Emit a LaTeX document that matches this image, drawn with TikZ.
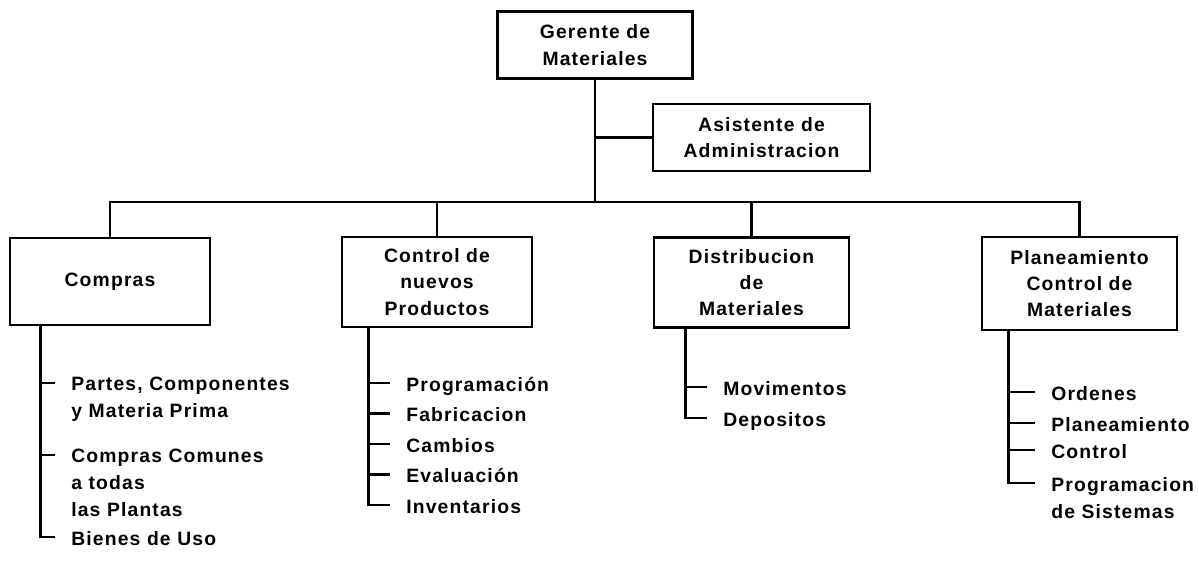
\documentclass[tikz,border=0pt]{standalone}
\usepackage{fontspec}
\setmainfont{Liberation Sans}[LetterSpace=6]
\usetikzlibrary{positioning,calc}

\begin{document}
\begin{tikzpicture}[
  x=0.2mm, y=-0.2mm,
  line width=1.5pt,
  box/.style={
    rectangle, draw, line width=1.5pt,
    minimum width=3.9cm, minimum height=1.8cm,
    align=center, font=\bfseries\fontsize{11}{15}\selectfont},
  topbox/.style={box, minimum height=1.34cm},
  item/.style={
    anchor=north west, inner sep=0pt, align=left,
    font=\bfseries\fontsize{11}{15.3}\selectfont},
  tick/.style={shift={(-0.3cm,-4pt)}},
]
  \useasboundingbox (0,0) rectangle (1199,565);

  \node[topbox] (ger) at (595,45) {Gerente de\\Materiales};
  \node[topbox, minimum width=4.34cm] (asis) at (761.5,137.5)
      {Asistente de\\Administracion};
  \node[box, minimum width=4cm, minimum height=1.74cm] (compras) at (110,281.5)
      {Compras};
  \node[box, minimum width=3.8cm] (ctrl) at (437,282)
      {Control de\\nuevos\\Productos};
  \node[box] (dist) at (751.5,282.5) {Distribucion\\de\\Materiales};
  \node[box, minimum height=1.86cm] (plan) at (1079.5,283.5)
      {Planeamiento\\Control de\\Materiales};

  \coordinate (bus) at (595,202);
  \draw (ger.south) -- (bus);
  \draw (asis.west) -- (asis.west -| ger.south);
  \draw (compras.north) |- (bus) -| (plan.north);
  \draw (ctrl.north) -- (ctrl.north |- bus);
  \draw (dist.north) -- (dist.north |- bus);

  \node[item] (partes)  at (70,376) {Partes, Componentes\\y Materia Prima};
  \node[item] (comunes) at (70,448) {Compras Comunes\\a todas\\las Plantas};
  \node[item] (bienes)  at (70,530) {Bienes de Uso};

  \node[item] (prog) at (405,376)   {Programación};
  \node[item] (fab)  at (405,406.5) {Fabricacion};
  \node[item] (camb) at (405,437)   {Cambios};
  \node[item] (eval) at (405,467.5) {Evaluación};
  \node[item] (inv)  at (405,498)   {Inventarios};

  \node[item] (mov) at (722,380) {Movimentos};
  \node[item] (dep) at (722,411) {Depositos};

  \node[item] (ord)     at (1050,385) {Ordenes};
  \node[item] (plane)   at (1050,416) {Planeamiento};
  \node[item] (contr)   at (1050,443) {Control};
  \node[item] (progsis) at (1050,476) {Programacion\\de Sistemas};

  \coordinate (ct) at ([xshift=0.64cm]compras.south west);
  \coordinate (nt) at ([xshift=0.56cm]ctrl.south west);
  \coordinate (dt) at ([xshift=0.66cm]dist.south west);
  \coordinate (pt) at ([xshift=0.56cm]plan.south west);

  \draw (ct) |- ([tick]bienes.north west);
  \draw (nt) |- ([tick]inv.north west);
  \draw (dt) |- ([tick]dep.north west);
  \draw (pt) |- ([tick]progsis.north west);

  \foreach \i in {partes,comunes}
    \draw ([tick]\i.north west) coordinate (t) -- (t -| ct);
  \foreach \i in {prog,fab,camb,eval}
    \draw ([tick]\i.north west) coordinate (t) -- (t -| nt);
  \draw ([tick]mov.north west) coordinate (t) -- (t -| dt);
  \foreach \i in {ord,plane,contr}
    \draw ([tick]\i.north west) coordinate (t) -- (t -| pt);
\end{tikzpicture}
\end{document}
